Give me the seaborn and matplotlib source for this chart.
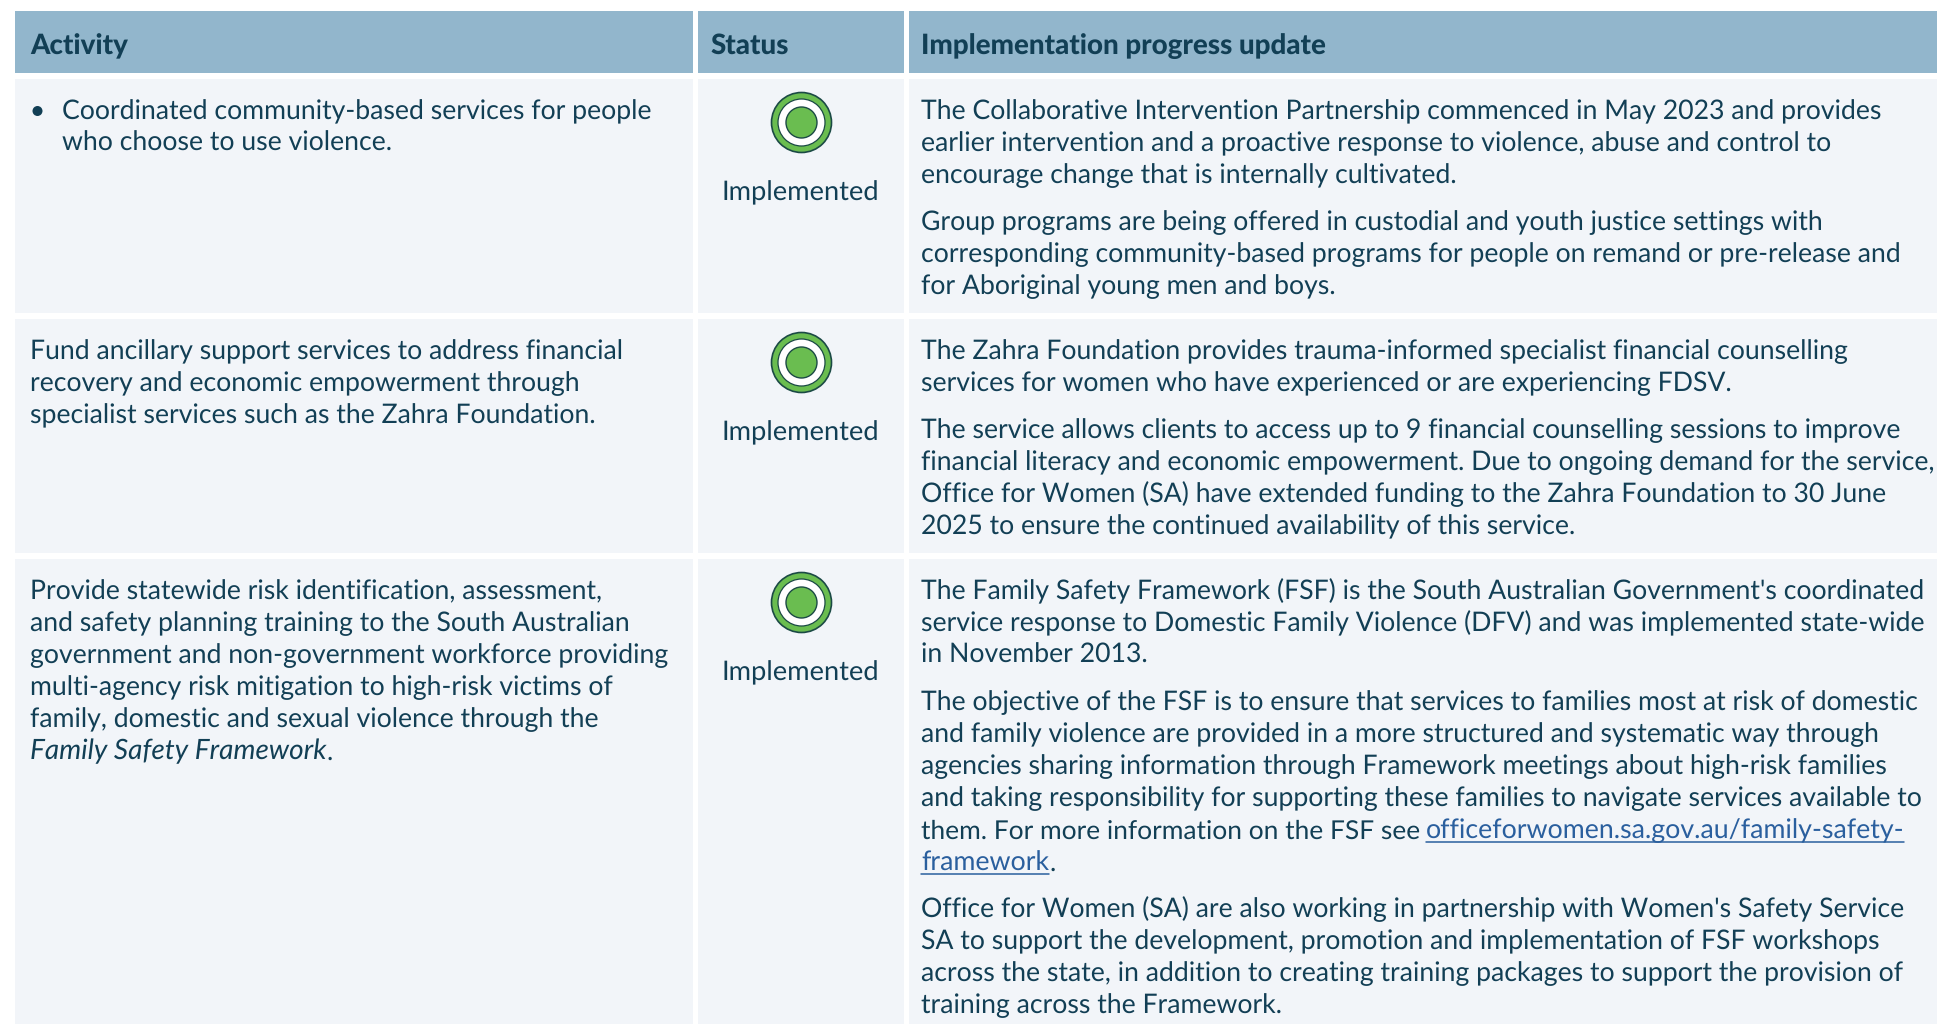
import matplotlib
matplotlib.use("Agg")
import matplotlib.pyplot as plt
from matplotlib.patches import Rectangle
import seaborn as sns
import pandas as pd

headers = ["Activity", "Status", "Implementation progress update"]
status_labels = ["Implemented", "Implemented", "Implemented"]

activity_1 = ["Coordinated community-based services for people", "who choose to use violence."]
activity_2 = ["Fund ancillary support services to address financial",
              "recovery and economic empowerment through",
              "specialist services such as the Zahra Foundation."]
activity_3 = ["Provide statewide risk identification, assessment,",
              "and safety planning training to the South Australian",
              "government and non-government workforce providing",
              "multi-agency risk mitigation to high-risk victims of",
              "family, domestic and sexual violence through the"]
activity_3_italic = "Family Safety Framework"

update_1 = [["The Collaborative Intervention Partnership commenced in May 2023 and provides",
             "earlier intervention and a proactive response to violence, abuse and control to",
             "encourage change that is internally cultivated."],
            ["Group programs are being offered in custodial and youth justice settings with",
             "corresponding community-based programs for people on remand or pre-release and",
             "for Aboriginal young men and boys."]]
update_2 = [["The Zahra Foundation provides trauma-informed specialist financial counselling",
             "services for women who have experienced or are experiencing FDSV."],
            ["The service allows clients to access up to 9 financial counselling sessions to improve",
             "financial literacy and economic empowerment. Due to ongoing demand for the service,",
             "Office for Women (SA) have extended funding to the Zahra Foundation to 30 June",
             "2025 to ensure the continued availability of this service."]]
update_3 = [["The Family Safety Framework (FSF) is the South Australian Government's coordinated",
             "service response to Domestic Family Violence (DFV) and was implemented state-wide",
             "in November 2013."],
            ["The objective of the FSF is to ensure that services to families most at risk of domestic",
             "and family violence are provided in a more structured and systematic way through",
             "agencies sharing information through Framework meetings about high-risk families",
             "and taking responsibility for supporting these families to navigate services available to",
             "them. For more information on the FSF see"],
            ["Office for Women (SA) are also working in partnership with Women's Safety Service",
             "SA to support the development, promotion and implementation of FSF workshops",
             "across the state, in addition to creating training packages to support the provision of",
             "training across the Framework."]]
link_1 = "officeforwomen.sa.gov.au/family-safety-"
link_2 = "framework"

INK, LINK = "#123f55", "#2a5f9e"
HEAD, BODY = "#92b6cc", "#f2f5f9"
GREEN = "#6abd50"
W, H = 1937, 1024

sns.set_theme(style="white")
plt.rcParams["font.family"] = ["Lato", "Noto Sans", "DejaVu Sans"]
plt.rcParams["text.hinting"] = "no_hinting"
plt.rcParams["text.hinting_factor"] = 8
fig = plt.figure(figsize=(W / 100, H / 100), dpi=100, facecolor="white")
ax = fig.add_axes([0, 0, 1, 1])
ax.set_xlim(0, W)
ax.set_ylim(H, 0)
ax.axis("off")
r = fig.canvas.get_renderer()

FS = 17.6
HFS = 19.95


def put(x, y, s, **kw):
    kw.setdefault("color", INK)
    kw.setdefault("fontsize", FS)
    t = ax.text(x, y, s, va="baseline", **kw)
    return t, t.get_window_extent(r).width


# calibrate the body size against the reference's first update line (960 px wide)
_t, _w = put(0, 0, update_1[0][0])
FS = FS * 960 / _w
_t.remove()

cols = [(15, 693), (698, 904), (909, W)]
rows = [(79, 313), (319, 553), (559, H)]
for x0, x1 in cols:
    ax.add_patch(Rectangle((x0, 11), x1 - x0, 62, fc=HEAD, ec="none"))
    for y0, y1 in rows:
        ax.add_patch(Rectangle((x0, y0), x1 - x0, y1 - y0, fc=BODY, ec="none"))

for h, xt in zip(headers, [30.5, 710.5, 921]):
    put(xt, 54, h, fontsize=HFS, fontweight="black")

LEAD, PGAP, BASE = 32.1, 46.7, [119, 359, 599]

# status markers
centers = pd.DataFrame({"x": [800.5, 800.5, 800.5], "y": [b + 3 for b in BASE]})
px2 = lambda d: (d * 0.72) ** 2
for d, fc, ec, lw in [(60, GREEN, "#1b4a45", 1.2), (47, "white", "#1b4a45", 0.9), (31, GREEN, "#1b4a45", 1.0)]:
    sns.scatterplot(data=centers, x="x", y="y", s=px2(d), color=fc, edgecolor=ec, linewidth=lw, ax=ax, legend=False, zorder=3)
ax.set_xlim(0, W)
ax.set_ylim(H, 0)
ax.set_xlabel("")
ax.set_ylabel("")
for b, s in zip(BASE, status_labels):
    put(800.5, b + 81, s, ha="center", fontsize=FS * 1.02)

# activity column
sns.scatterplot(x=[37.5], y=[111], s=px2(10), color=INK, edgecolor="none", ax=ax, legend=False)
ax.set_xlim(0, W)
ax.set_ylim(H, 0)
ax.set_xlabel("")
ax.set_ylabel("")
for i, s in enumerate(activity_1):
    put(62.5, BASE[0] + i * LEAD, s)
for i, s in enumerate(activity_2):
    put(30.5, BASE[1] + i * LEAD, s)
for i, s in enumerate(activity_3):
    put(30.5, BASE[2] + i * LEAD, s)
_y = BASE[2] + 5 * LEAD
_, w = put(30.5, _y, activity_3_italic, fontstyle="italic", fontsize=FS * 1.05)
put(30.5 + w, _y, ".")


# update column
def paragraphs(paras, base):
    y = base
    ends = []
    for p in paras:
        for s in p:
            # the line that leads into the hyperlink is set a touch tighter
            size = FS * 0.988 if s == update_3[1][-1] else FS
            _, w = put(921, y, s, fontsize=size)
            ends.append((y, w))
            y += LEAD
        y += PGAP - LEAD
    return ends


paragraphs(update_1, BASE[0])
paragraphs(update_2, BASE[1])
ends = paragraphs(update_3, BASE[2])

# hyperlink continues the paragraph's last line and spills on to an extra line
yl, wl = ends[7]
xl = 1425.5
_, w1 = put(xl, yl, link_1, color=LINK, fontsize=FS * 1.005)
ax.plot([xl, xl + w1], [yl + 4, yl + 4], color=LINK, lw=1.1)
yl2 = yl + LEAD
_, w2 = put(921, yl2, link_2, color=LINK, fontsize=FS * 1.005)
ax.plot([921, 921 + w2], [yl2 + 4, yl2 + 4], color=LINK, lw=1.1)
put(921 + w2, yl2, ".")

# last paragraph sits one line lower because of the link's wrap
for t in list(ax.texts):
    if t.get_text() in update_3[2]:
        t.set_y(t.get_position()[1] + LEAD)

fig.savefig("out.png", dpi=100, facecolor="white")
